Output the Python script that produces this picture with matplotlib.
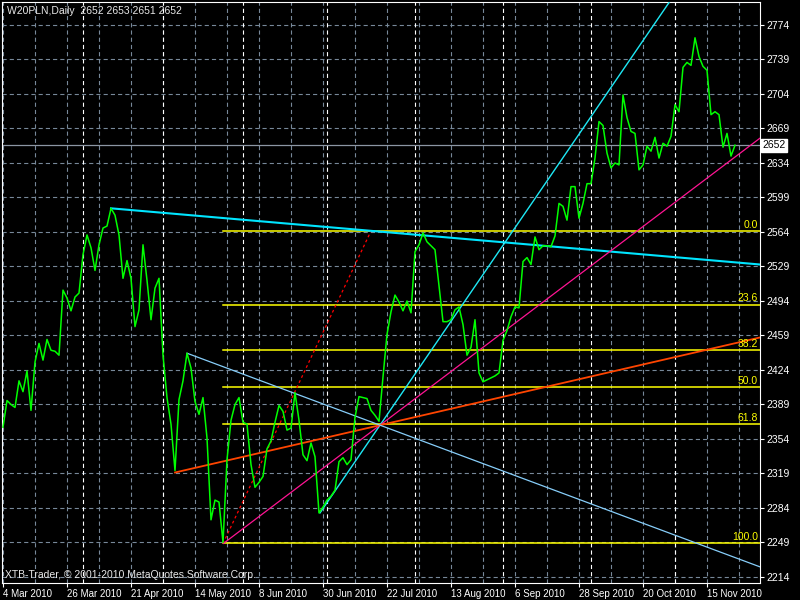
import matplotlib
matplotlib.use('Agg')
import matplotlib.pyplot as plt
import matplotlib.transforms as mtransforms

plt.rcParams['font.family'] = ['Liberation Sans', 'DejaVu Sans']
plt.rcParams['lines.scale_dashes'] = False

# daily closes, one per trading day from 4 Mar 2010
closes = [
    2366, 2393, 2389, 2386, 2413, 2402, 2423, 2383, 2432, 2451,
    2434, 2455, 2444, 2443, 2439, 2505, 2497, 2484, 2498, 2502,
    2541, 2561, 2548, 2525, 2551, 2568, 2570, 2588, 2581, 2561,
    2517, 2535, 2517, 2468, 2485, 2551, 2515, 2475, 2507, 2517,
    2439, 2396, 2369, 2322, 2394, 2413, 2441, 2426, 2392, 2379,
    2396, 2355, 2272, 2292, 2290, 2249, 2333, 2373, 2389, 2396,
    2371, 2369, 2328, 2305, 2310, 2316, 2344, 2352, 2371, 2388,
    2382, 2363, 2365, 2401, 2373, 2338, 2332, 2350, 2336, 2279,
    2285, 2292, 2296, 2302, 2331, 2335, 2328, 2333, 2376, 2397,
    2396, 2395, 2383, 2378, 2372, 2417, 2460, 2483, 2500, 2493,
    2484, 2494, 2482, 2544, 2551, 2563, 2554, 2550, 2546, 2510,
    2473, 2473, 2475, 2485, 2488, 2470, 2439, 2447, 2475, 2421,
    2412, 2414, 2416, 2418, 2421, 2454, 2464, 2478, 2488, 2487,
    2534, 2538, 2531, 2559, 2546, 2550, 2550, 2549, 2560, 2593,
    2590, 2576, 2610, 2610, 2578, 2593, 2613, 2613, 2639, 2676,
    2672, 2644, 2629, 2634, 2632, 2703, 2680, 2666, 2664, 2627,
    2632, 2651, 2646, 2660, 2639, 2654, 2651, 2661, 2693, 2686,
    2731, 2736, 2733, 2761, 2742, 2732, 2728, 2683, 2686, 2683,
    2650, 2664, 2641, 2652,
]

date_ticks = [0, 16, 32, 48, 64, 80, 96, 112, 128, 144, 160, 176]
date_labels = ['4 Mar 2010', '26 Mar 2010', '21 Apr 2010', '14 May 2010',
               '8 Jun 2010', '30 Jun 2010', '22 Jul 2010', '13 Aug 2010',
               '6 Sep 2010', '28 Sep 2010', '20 Oct 2010', '15 Nov 2010']
month_starts = [20, 40, 60, 81, 103, 125, 147, 168]
price_ticks = [2214, 2249, 2284, 2319, 2354, 2389, 2424, 2459, 2494,
               2529, 2564, 2599, 2634, 2669, 2704, 2739, 2774]

symbol = 'W20PLN,Daily'
last_ohlc = [2652, 2653, 2651, 2652]
last_price = 2652

# fibonacci retracement
fib_levels = [0.0, 23.6, 38.2, 50.0, 61.8, 100.0]
fib_high = 2565
fib_low = 2248
fib_start_bar = 55
fib_diag_end_bar = 92

# trend lines (bar, price)
top_trend = [(27, 2588), (189.25, 2531)]
fan_pivot = (94.25, 2368)
fan_starts = [(79.25, 2279), (55.1, 2248), (43, 2320), (46, 2441)]
fan_colors = ['#1EE8F5', '#FF1493', '#FF4500', '#87CEFA']
fan_widths = [1.0, 0.9, 1.3, 0.9]

XMIN, XMAX = -0.25, 189.25
YMIN, YMAX = 2207.9, 2797.3
FS = 7.5

fig = plt.figure(figsize=(8, 6), dpi=100, facecolor='black')
ax = fig.add_axes([2 / 800, 17 / 600, 758 / 800, 581 / 600])
ax.set_facecolor('black')
ax.set_xlim(XMIN, XMAX)
ax.set_ylim(YMIN, YMAX)
for s in ax.spines.values():
    s.set_color('white')
    s.set_linewidth(0.8)

grid_kw = dict(color='#778899', lw=0.8, linestyle=(0, (3, 2.2)), zorder=1)
for p in price_ticks:
    ax.axhline(p, **grid_kw)
for b in range(0, 190, 8):
    ax.axvline(b, **grid_kw)
for b in month_starts:
    ax.axvline(b, color='white', lw=0.8, linestyle=(0, (3, 2.2)), zorder=1.5)

# last price line
ax.axhline(last_price, color='#8C96A3', lw=0.9, zorder=2)

# fibo levels
rng = fib_high - fib_low
ytr = mtransforms.blended_transform_factory(ax.transAxes, ax.transData)
for lvl in fib_levels:
    y = fib_high - rng * lvl / 100
    ax.plot([fib_start_bar, XMAX], [y, y], color='#FFFF00', lw=1.1, zorder=3)
    ax.text(0.997, y + 1.5, f'{lvl:.1f}', transform=ytr, color='#FFFF00',
            fontsize=FS, ha='right', va='bottom', zorder=6)
ax.plot([fib_start_bar, fib_diag_end_bar], [fib_low, fib_high],
        color='#FF0000', lw=0.9, linestyle=(0, (2, 2)), zorder=3)

# top trend line
ax.plot([p[0] for p in top_trend], [p[1] for p in top_trend],
        color='#00E5FF', lw=1.5, zorder=4)

# fan rays through the common pivot, out to the right edge
px, py = fan_pivot
for (sx, sy), c, w in zip(fan_starts, fan_colors, fan_widths):
    slope = (py - sy) / (px - sx)
    ax.plot([sx, XMAX], [sy, sy + slope * (XMAX - sx)], color=c, lw=w, zorder=4)

ax.plot(range(len(closes)), closes, color='#00FF00', lw=1.1, zorder=5)

# axes ticks
ax.yaxis.tick_right()
ax.set_yticks(price_ticks)
ax.set_yticklabels([str(p) for p in price_ticks])
ax.tick_params(axis='y', colors='white', labelsize=FS, length=3, width=0.8, pad=1.5)
ax.set_xticks(date_ticks)
ax.set_xticklabels(date_labels)
ax.tick_params(axis='x', colors='white', labelsize=7, length=3, width=0.8, pad=1)
for t in ax.get_xticklabels():
    t.set_horizontalalignment('left')

ax.text(1.003, last_price, str(last_price), transform=ytr, color='black',
        fontsize=FS, ha='left', va='center', clip_on=False, zorder=7,
        bbox=dict(facecolor='white', edgecolor='white', pad=1.2))

fig.text(7 / 800, 1 - 11 / 600,
         symbol + '  ' + ' '.join(str(v) for v in last_ohlc),
         color='#E8E8E8', fontsize=FS, va='center', ha='left')
fig.text(5 / 800, 1 - 575 / 600,
         'XTB-Trader, \u00a9 2001-2010 MetaQuotes Software Corp.',
         color='#E8E8E8', fontsize=FS, va='center', ha='left')

fig.savefig('out.png', dpi=100, facecolor='black')
